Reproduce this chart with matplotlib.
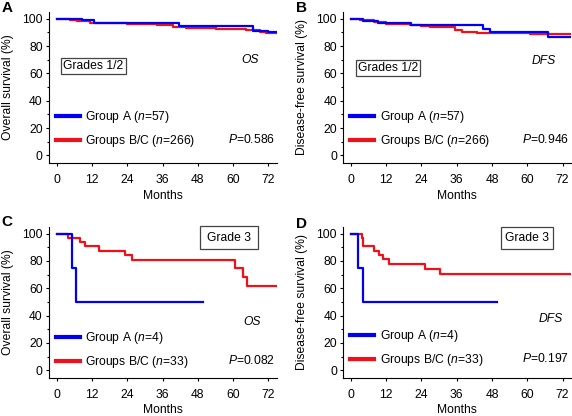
import matplotlib
matplotlib.use("Agg")
import matplotlib.pyplot as plt
from matplotlib.patches import Rectangle
from matplotlib.ticker import MultipleLocator

plt.rcParams['font.family'] = ['Liberation Sans', 'DejaVu Sans']
plt.rcParams['mathtext.fontset'] = 'custom'
plt.rcParams['mathtext.rm'] = 'Liberation Sans'
plt.rcParams['mathtext.it'] = 'Liberation Sans:italic'

BLUE = '#0000f5'
RED = '#f0101a'

# panel A: overall survival, grades 1/2
a_blue_t = [0, 8.5, 12.7, 41.7, 66.9, 71.9, 74.6]
a_blue_s = [100, 98.8, 96.8, 94.5, 90.8, 90.3, 90.3]
a_red_t = [0, 4.5, 6.8, 11.3, 23.8, 34, 39.6, 44, 54.3, 64.5, 69, 71.3, 74.6]
a_red_s = [100, 99.3, 98.3, 97.3, 96.0, 95.4, 93.8, 93.3, 92.5, 91.5, 90.7, 89.8, 89.8]

# panel B: disease-free survival, grades 1/2
b_blue_t = [0, 4.2, 9.3, 20.5, 44.8, 47.2, 67.0, 75]
b_blue_s = [100, 98.5, 97.0, 95.3, 92.4, 90.0, 86.4, 86.4]
b_red_t = [0, 3.1, 8, 12, 20, 24, 27, 31, 35.5, 37.8, 42.9, 61, 75]
b_red_s = [100, 98.8, 97.5, 96.5, 95.5, 95.0, 94.3, 93.8, 91.9, 90.2, 89.6, 88.8, 88.8]

# panel C: overall survival, grade 3
c_blue_t = [0, 5.1, 6.6, 49.7]
c_blue_s = [100, 75, 50, 50]
c_red_t = [0, 4, 8, 9.7, 14.3, 23.4, 25.7, 60.6, 63.4, 64.8, 74.9]
c_red_s = [100, 97, 93.9, 90.9, 87.5, 84, 80.3, 74.5, 68, 61.7, 61.7]

# panel D: disease-free survival, grade 3
d_blue_t = [0, 2.3, 4, 49.7]
d_blue_s = [100, 75, 50, 50]
d_red_t = [0, 3.7, 4.3, 7.8, 9.7, 11.1, 13.1, 25.1, 30.3, 75]
d_red_s = [100, 97, 91, 87.5, 84, 81, 77.5, 74, 70.5, 70.5]

month_ticks = [0, 12, 24, 36, 48, 60, 72]
surv_ticks = [0, 20, 40, 60, 80, 100]

FS = 8.7


def panel(ax, bt, bs, rt, rs, ylabel, grade, box, endpoint, end_xy,
          n_a, n_bc, pval, leg_y):
    ax.step(rt, rs, where='post', color=RED, lw=1.6, label=f'Groups B/C ($n$={n_bc})')
    ax.step(bt, bs, where='post', color=BLUE, lw=1.6, label=f'Group A ($n$={n_a})')
    ax.set_xlim(-2.6, 75)
    ax.set_ylim(-5.5, 105)
    ax.set_xticks(month_ticks)
    ax.set_yticks(surv_ticks)
    ax.yaxis.set_minor_locator(MultipleLocator(10))
    ax.spines['top'].set_visible(False)
    ax.spines['right'].set_visible(False)
    for s in ['left', 'bottom']:
        ax.spines[s].set_linewidth(0.8)
    ax.tick_params(axis='both', which='major', labelsize=FS, length=2.5, width=0.8)
    ax.tick_params(axis='x', pad=5.5)
    ax.tick_params(axis='y', pad=2)
    ax.tick_params(axis='y', which='minor', length=1.5, width=0.8)
    ax.set_xlabel('Months', fontsize=FS, labelpad=2.5)
    ax.set_ylabel(ylabel, fontsize=FS)
    ax.yaxis.set_label_coords(-0.155, 0.5)

    x0, x1, y0, y1 = box
    ax.add_patch(Rectangle((x0, y0), x1 - x0, y1 - y0, fc='white', ec='#444444',
                           lw=0.9, clip_on=False, zorder=3))
    ax.text((x0 + x1) / 2, (y0 + y1) / 2, grade, fontsize=FS, ha='center',
            va='center', zorder=4)
    ax.text(end_xy[0], end_xy[1], endpoint, fontsize=FS, style='italic',
            ha='center', va='center')

    h, l = ax.get_legend_handles_labels()
    leg = ax.legend(h[::-1], l[::-1], loc='center left', bbox_to_anchor=(-0.3, leg_y),
                    bbox_transform=ax.transData, frameon=False, fontsize=FS,
                    handlelength=2.0, handletextpad=0.45, labelspacing=0.65,
                    borderpad=0, borderaxespad=0)
    for line in leg.get_lines():
        line.set_linewidth(3)
    ax.text(74.2, leg_y - 7.8, f'$P$={pval}', fontsize=FS, ha='right', va='center')


fig = plt.figure(figsize=(5.72, 4.16), dpi=100)
axA = fig.add_axes([0.0857, 0.6082, 0.399, 0.363])
axB = fig.add_axes([0.600, 0.6082, 0.399, 0.363])
axC = fig.add_axes([0.0857, 0.0921, 0.399, 0.363])
axD = fig.add_axes([0.600, 0.0921, 0.399, 0.363])

panel(axA, a_blue_t, a_blue_s, a_red_t, a_red_s, 'Overall survival (%)',
      'Grades 1/2', (1.4, 23.6, 59.7, 71.2), 'OS', (65.8, 70), 57, 266, '0.586', 19.4)
panel(axB, b_blue_t, b_blue_s, b_red_t, b_red_s, 'Disease-free survival (%)',
      'Grades 1/2', (1.9, 23.6, 58.1, 69.9), 'DFS', (65.7, 69.4), 57, 266, '0.946', 19.3)
panel(axC, c_blue_t, c_blue_s, c_red_t, c_red_s, 'Overall survival (%)',
      'Grade 3', (48.8, 68.5, 88.5, 105.6), 'OS', (66.5, 35.6), 4, 33, '0.082', 14.7)
panel(axD, d_blue_t, d_blue_s, d_red_t, d_red_s, 'Disease-free survival (%)',
      'Grade 3', (50.9, 68.6, 88.4, 104.4), 'DFS', (68, 37.8), 4, 33, '0.197', 16)

for letter, x, y in [('A', 0.002, 0.997), ('B', 0.517, 0.997),
                     ('C', 0.002, 0.483), ('D', 0.517, 0.478)]:
    fig.text(x, y, letter, fontsize=11, fontweight='bold', ha='left', va='top')

fig.savefig('out.png', dpi=100)
